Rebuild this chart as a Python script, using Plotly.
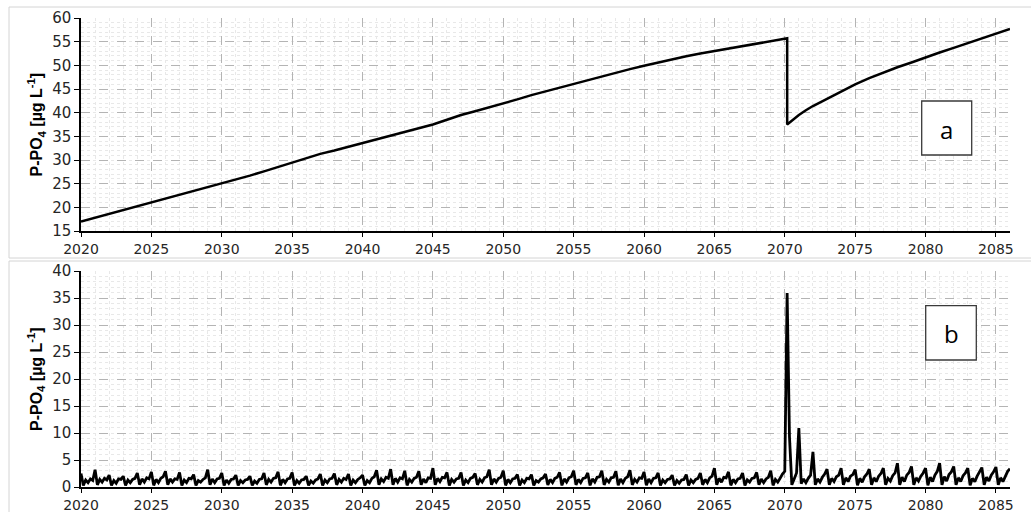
import plotly.graph_objects as go

W, H = 1031, 512

# ---------------- data ----------------
# Panel a: P-PO4 (ug/L), time in decimal years
top_t = [2020, 2021, 2022, 2023, 2024, 2025, 2026, 2027, 2028, 2029,
         2030, 2031, 2032, 2033, 2034, 2035, 2036, 2037, 2038, 2039,
         2040, 2041, 2042, 2043, 2044, 2045, 2046, 2047, 2048, 2049,
         2050, 2051, 2052, 2053, 2054, 2055, 2056, 2057, 2058, 2059,
         2060, 2061, 2062, 2063, 2064, 2065, 2066, 2067, 2068, 2069,
         2070, 2070.17, 2070.17, 2070.6, 2071, 2071.5, 2072, 2073, 2074, 2075,
         2076, 2077, 2078, 2079, 2080, 2081, 2082, 2083, 2084, 2085, 2086]
top_v = [17.0, 17.8, 18.6, 19.4, 20.2, 21.0, 21.8, 22.6, 23.4, 24.2,
         25.1, 25.9, 26.7, 27.6, 28.5, 29.4, 30.4, 31.3, 32.0, 32.8,
         33.6, 34.4, 35.2, 35.9, 36.7, 37.5, 38.5, 39.5, 40.3, 41.1,
         41.9, 42.8, 43.7, 44.5, 45.3, 46.1, 46.9, 47.7, 48.5, 49.2,
         49.9, 50.6, 51.3, 51.9, 52.5, 53.0, 53.6, 54.1, 54.6, 55.1,
         55.5, 55.7, 37.5, 38.6, 39.5, 40.5, 41.4, 42.9, 44.5, 46.0,
         47.3, 48.5, 49.6, 50.6, 51.7, 52.7, 53.7, 54.7, 55.8, 56.8, 57.7]

# Panel b: P-PO4 (ug/L), six samples per year (every two months)
bottom_years = list(range(2020, 2087))
bottom_vals = [
    [2.5, 0.3, 1.3, 0.8, 1.5, 1.2],   # 2020
    [3.2, 0.4, 1.4, 0.9, 1.6, 1.3],
    [2.2, 0.3, 1.2, 0.7, 1.5, 1.4],
    [2.0, 0.3, 1.3, 0.8, 1.4, 1.6],
    [2.6, 0.4, 1.5, 0.9, 1.7, 1.5],
    [2.8, 0.3, 1.4, 0.8, 1.6, 1.9],   # 2025
    [2.9, 0.4, 1.5, 0.9, 1.5, 1.4],
    [2.7, 0.3, 1.3, 0.8, 1.6, 1.5],
    [2.3, 0.3, 1.2, 0.9, 1.4, 1.7],
    [3.2, 0.4, 1.5, 0.8, 1.5, 1.6],
    [2.6, 0.3, 1.3, 0.7, 1.4, 1.5],   # 2030
    [2.2, 0.3, 1.2, 0.8, 1.3, 1.4],
    [2.0, 0.3, 1.1, 0.7, 1.4, 1.5],
    [2.6, 0.4, 1.4, 0.9, 1.6, 1.7],
    [2.8, 0.3, 1.4, 0.8, 1.5, 1.6],
    [2.7, 0.3, 1.2, 0.7, 1.3, 1.4],   # 2035
    [2.0, 0.3, 1.1, 0.7, 1.3, 1.5],
    [2.4, 0.3, 1.3, 0.8, 1.5, 1.6],
    [2.5, 0.4, 1.4, 0.9, 1.6, 1.4],
    [2.4, 0.3, 1.3, 0.8, 1.4, 1.7],
    [2.2, 0.3, 1.2, 0.8, 1.6, 1.9],   # 2040
    [3.1, 0.4, 1.5, 1.0, 1.8, 1.6],
    [3.3, 0.4, 1.6, 0.9, 1.7, 1.5],
    [3.0, 0.3, 1.4, 0.9, 1.6, 1.8],
    [2.9, 0.4, 1.5, 0.8, 1.7, 1.6],
    [3.5, 0.4, 1.6, 1.0, 1.8, 1.7],   # 2045
    [2.7, 0.3, 1.4, 0.9, 1.5, 1.6],
    [2.7, 0.3, 1.3, 0.8, 1.6, 1.8],
    [2.5, 0.4, 1.4, 0.9, 1.7, 1.9],
    [3.2, 0.4, 1.5, 0.9, 1.6, 1.8],
    [3.0, 0.3, 1.4, 0.8, 1.5, 1.6],   # 2050
    [2.3, 0.3, 1.3, 0.8, 1.6, 1.5],
    [2.3, 0.3, 1.2, 0.9, 1.5, 1.7],
    [2.4, 0.4, 1.4, 0.8, 1.6, 1.8],
    [2.7, 0.3, 1.5, 0.9, 1.7, 1.9],
    [3.0, 0.4, 1.4, 0.8, 1.6, 1.7],   # 2055
    [2.6, 0.3, 1.5, 0.9, 1.8, 1.9],
    [3.0, 0.4, 1.4, 0.9, 1.7, 1.8],
    [2.9, 0.3, 1.5, 0.8, 1.6, 1.9],
    [3.1, 0.4, 1.4, 0.9, 1.7, 1.6],
    [2.8, 0.3, 1.5, 0.8, 1.6, 1.7],   # 2060
    [2.6, 0.3, 1.3, 0.8, 1.4, 1.5],
    [2.2, 0.3, 1.2, 0.7, 1.3, 1.4],
    [2.3, 0.3, 1.3, 0.8, 1.4, 1.6],
    [2.6, 0.4, 1.4, 0.8, 1.7, 2.0],
    [3.5, 0.4, 1.6, 0.9, 1.8, 1.7],   # 2065
    [2.8, 0.3, 1.4, 0.8, 1.5, 1.6],
    [2.6, 0.3, 1.3, 0.9, 1.6, 1.7],
    [2.7, 0.4, 1.5, 0.8, 1.5, 1.8],
    [3.0, 0.3, 1.4, 0.9, 1.6, 2.4],
    [2.9, 35.9, 9.3, 0.4, 1.5, 2.6],  # 2070
    [10.9, 0.6, 1.5, 0.8, 1.6, 2.2],
    [6.5, 0.4, 1.5, 0.9, 1.8, 2.4],
    [3.3, 0.4, 1.6, 1.0, 1.9, 2.2],
    [3.5, 0.4, 1.7, 1.0, 2.0, 2.3],
    [3.2, 0.3, 1.6, 0.9, 1.9, 2.4],   # 2075
    [3.3, 0.4, 1.7, 1.0, 2.0, 2.5],
    [3.5, 0.4, 1.6, 1.1, 2.1, 2.6],
    [4.4, 0.4, 1.8, 1.0, 2.2, 2.7],
    [3.8, 0.4, 1.7, 1.1, 2.0, 2.6],
    [3.5, 0.3, 1.8, 1.0, 2.2, 2.9],   # 2080
    [4.4, 0.4, 1.9, 1.1, 2.3, 2.8],
    [3.8, 0.4, 1.7, 1.0, 2.1, 2.6],
    [3.5, 0.3, 1.6, 1.0, 2.0, 2.7],
    [3.6, 0.4, 1.8, 1.1, 2.2, 2.8],
    [3.7, 0.4, 1.7, 1.0, 2.1, 2.9],   # 2085
    [3.4],                            # 2086
]

x_ticks = [2020, 2025, 2030, 2035, 2040, 2045, 2050, 2055, 2060, 2065, 2070, 2075, 2080, 2085]
top_yticks = [15, 20, 25, 30, 35, 40, 45, 50, 55, 60]
bottom_yticks = [0, 5, 10, 15, 20, 25, 30, 35, 40]
ytitle = "P-PO<sub>4</sub> [µg L<sup>-1</sup>]"
panel_labels = ["a", "b"]

# flatten panel b sample times
bottom_t, bottom_v = [], []
for yr, row in zip(bottom_years, bottom_vals):
    for k, v in enumerate(row):
        bottom_t.append(yr + k / 6.0)
        bottom_v.append(v)

# ---------------- figure ----------------
def px_x(p):
    return p / W

def px_y(p):
    return 1 - p / H

fig = go.Figure()
fig.add_trace(go.Scatter(x=top_t, y=top_v, mode="lines",
                         line=dict(color="black", width=2.5),
                         xaxis="x", yaxis="y", showlegend=False))
fig.add_trace(go.Scatter(x=bottom_t, y=bottom_v, mode="lines",
                         line=dict(color="black", width=2.8),
                         xaxis="x2", yaxis="y2", showlegend=False))

tickfont = dict(family="DejaVu Sans, Liberation Sans, Arial", size=14, color="#262626")
major_grid = dict(showgrid=True, gridcolor="#b4b4b4", gridwidth=1, griddash="dash")
minor_x = dict(dtick=1, showgrid=True, gridcolor="#e8e8e8", gridwidth=1, griddash="dot", ticks="")
minor_y = dict(dtick=1, showgrid=True, gridcolor="#e8e8e8", gridwidth=1, griddash="dot", ticks="")

xdom = [px_x(81), px_x(1010)]

def xaxis_cfg(anchor):
    return dict(domain=xdom, anchor=anchor, range=[2020, 2086], automargin=False,
                tickvals=x_ticks, ticktext=[str(v) for v in x_ticks],
                ticks="outside", ticklen=4, tickwidth=1.2, tickcolor="black",
                showline=True, linecolor="black", linewidth=1.5,
                tickfont=tickfont, zeroline=False, minor=minor_x, **major_grid)

def yaxis_cfg(anchor, dom, rng, ticks_):
    return dict(domain=dom, anchor=anchor, range=rng, automargin=False,
                tickvals=ticks_, ticktext=[str(v) for v in ticks_],
                ticks="outside", ticklen=5, tickwidth=1.2, tickcolor="black",
                showline=True, linecolor="black", linewidth=1.5,
                tickfont=dict(tickfont, size=15), zeroline=False, minor=minor_y, **major_grid)

fig.update_layout(
    template="none",
    width=W, height=H,
    margin=dict(l=0, r=0, t=0, b=0, pad=0),
    paper_bgcolor="white", plot_bgcolor="white",
    xaxis=xaxis_cfg("y"),
    yaxis=yaxis_cfg("x", [px_y(231), px_y(18)], [15, 60], top_yticks),
    xaxis2=xaxis_cfg("y2"),
    yaxis2=yaxis_cfg("x2", [px_y(487), px_y(271)], [0, 40], bottom_yticks),
)

# panel frames (light gray)
fig.add_shape(type="rect", xref="paper", yref="paper",
              x0=px_x(9), x1=px_x(1032), y0=px_y(258), y1=px_y(7),
              line=dict(color="#d4d4d4", width=1), fillcolor="rgba(0,0,0,0)", layer="below")
fig.add_shape(type="rect", xref="paper", yref="paper",
              x0=px_x(9), x1=px_x(1032), y0=px_y(514), y1=px_y(261),
              line=dict(color="#d4d4d4", width=1), fillcolor="rgba(0,0,0,0)", layer="below")

# y titles
for cy in (px_y(124.5), px_y(379)):
    fig.add_annotation(text="<b>" + ytitle + "</b>", xref="paper", yref="paper",
                       x=px_x(36), y=cy, textangle=-90, showarrow=False,
                       xanchor="center", yanchor="middle",
                       font=dict(family="Liberation Sans, Arial", size=16, color="black"))

# panel label boxes
boxes = [(921.7, 971.7, 101, 155), (925.7, 976.3, 305.7, 360)]
for lab, (x0, x1, y0, y1) in zip(panel_labels, boxes):
    fig.add_shape(type="rect", xref="paper", yref="paper",
                  x0=px_x(x0), x1=px_x(x1), y0=px_y(y1), y1=px_y(y0),
                  line=dict(color="#3a3a3a", width=1.3), fillcolor="white", layer="above")
    fig.add_annotation(text=lab, xref="paper", yref="paper",
                       x=px_x((x0 + x1) / 2), y=px_y((y0 + y1) / 2 + 1),
                       showarrow=False, xanchor="center", yanchor="middle",
                       font=dict(family="Open Sans, Noto Sans, Arial", size=24, color="black"))

fig.write_html("out.html")
